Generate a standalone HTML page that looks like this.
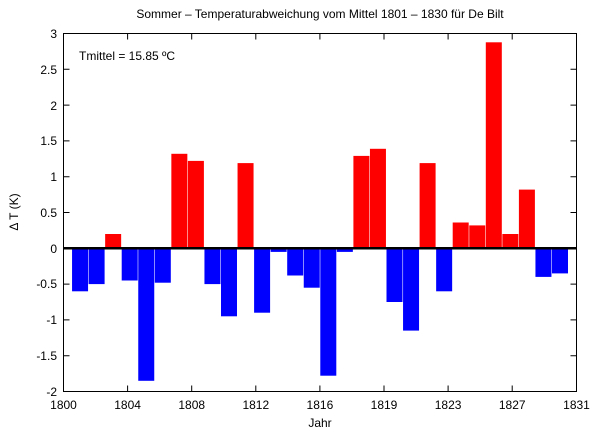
<!DOCTYPE html>
<html><head><style>body{margin:0;background:#fff}svg{display:block}text{font-family:"Liberation Sans",sans-serif;font-size:12px;fill:#000}</style></head><body>
<svg width="600" height="434" viewBox="0 0 600 434">
<g fill="#f00">
<rect x="105.15" y="234" width="16" height="14.3"/>
<rect x="171.35" y="153.8" width="16" height="94.5"/>
<rect x="187.9" y="160.9" width="16" height="87.4"/>
<rect x="237.55" y="163.1" width="16" height="85.2"/>
<rect x="353.4" y="155.9" width="16" height="92.4"/>
<rect x="369.95" y="148.8" width="16" height="99.5"/>
<rect x="419.6" y="163.1" width="16" height="85.2"/>
<rect x="452.7" y="222.5" width="16" height="25.8"/>
<rect x="469.25" y="225.4" width="16" height="22.9"/>
<rect x="485.8" y="42.3" width="16" height="206"/>
<rect x="502.35" y="234" width="16" height="14.3"/>
<rect x="518.9" y="189.6" width="16" height="58.7"/>
</g>
<g fill="#00f">
<rect x="72.05" y="248.3" width="16" height="43"/>
<rect x="88.6" y="248.3" width="16" height="35.8"/>
<rect x="121.7" y="248.3" width="16" height="32.2"/>
<rect x="138.25" y="248.3" width="16" height="132.5"/>
<rect x="154.8" y="248.3" width="16" height="34.4"/>
<rect x="204.45" y="248.3" width="16" height="35.8"/>
<rect x="221" y="248.3" width="16" height="68"/>
<rect x="254.1" y="248.3" width="16" height="64.4"/>
<rect x="270.65" y="248.3" width="16" height="3.6"/>
<rect x="287.2" y="248.3" width="16" height="27.2"/>
<rect x="303.75" y="248.3" width="16" height="39.4"/>
<rect x="320.3" y="248.3" width="16" height="127.4"/>
<rect x="336.85" y="248.3" width="16" height="3.6"/>
<rect x="386.5" y="248.3" width="16" height="53.7"/>
<rect x="403.05" y="248.3" width="16" height="82.3"/>
<rect x="436.15" y="248.3" width="16" height="43"/>
<rect x="535.45" y="248.3" width="16" height="28.6"/>
<rect x="552" y="248.3" width="16" height="25.1"/>
</g>
<line x1="63.5" y1="248.3" x2="576.5" y2="248.3" stroke="#000" stroke-width="2.5"/>
<rect x="63.5" y="33.5" width="513" height="358" fill="none" stroke="#000" stroke-width="1"/>
<g stroke="#000" stroke-width="1">
<path d="M63.5 33.5h6M63.5 69.3h6M63.5 105.1h6M63.5 140.9h6M63.5 176.7h6M63.5 212.5h6M63.5 284.1h6M63.5 319.9h6M63.5 355.7h6M576.5 69.3h-6M576.5 105.1h-6M576.5 140.9h-6M576.5 176.7h-6M576.5 212.5h-6M576.5 284.1h-6M576.5 319.9h-6M576.5 355.7h-6"/>
<path d="M127.6 391.5v-6M191.7 391.5v-6M255.8 391.5v-6M319.9 391.5v-6M384 391.5v-6M448.1 391.5v-6M512.2 391.5v-6M127.6 33.5v6M191.7 33.5v6M255.8 33.5v6M319.9 33.5v6M384 33.5v6M448.1 33.5v6M512.2 33.5v6"/>
</g>
<g text-anchor="end">
<text x="57" y="38">3</text><text x="57" y="74">2.5</text><text x="57" y="110">2</text><text x="57" y="145">1.5</text><text x="57" y="181">1</text><text x="57" y="217">0.5</text><text x="57" y="253">0</text><text x="57" y="288">-0.5</text><text x="57" y="324">-1</text><text x="57" y="360">-1.5</text><text x="57" y="396">-2</text>
</g>
<g text-anchor="middle">
<text x="63.5" y="409">1800</text><text x="127.6" y="409">1804</text><text x="191.7" y="409">1808</text><text x="255.8" y="409">1812</text><text x="319.9" y="409">1816</text><text x="384" y="409">1819</text><text x="448.1" y="409">1823</text><text x="512.2" y="409">1827</text><text x="576.5" y="409">1831</text>
<text x="320" y="427">Jahr</text>
<text x="320" y="18">Sommer – Temperaturabweichung vom Mittel 1801 – 1830 für De Bilt</text>
<text x="18" y="212" transform="rotate(-90 18 212)">Δ T (K)</text>
</g>
<text x="79" y="60">Tmittel = 15.85 ºC</text>
</svg>
</body></html>
